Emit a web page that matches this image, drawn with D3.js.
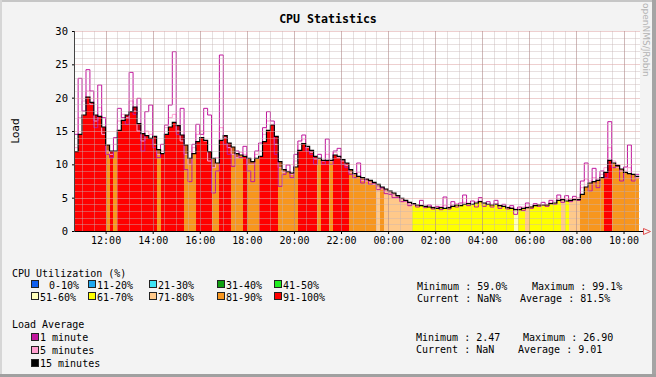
<!DOCTYPE html>
<html>
<head>
<meta charset="utf-8">
<script src="https://cdn.jsdelivr.net/npm/d3@7"></script>
<style>
  body { margin: 0; background: #f3f3f3; }
  svg { display: block; }
</style>
</head>
<body>
<div id="chart"></div>
<script>
// CPU Statistics - grafik gaya RRD / JRobin

// --- data (langkah 10 menit) ---
const startTime = new Date(2024, 0, 1, 10, 40);
const stepMinutes = 10;

const load15 = [
  11.9, 14.5, 17.4, 20.1, 19.3, 17.4, 17.2, 15.6, 12.9, 12.0, 12.0, 15.1,
  16.6, 17.4, 17.9, 18.6, 16.1, 14.6, 14.3, 13.9, 14.2, 12.2, 11.6, 14.5,
  15.6, 16.3, 15.8, 14.4, 12.9, 10.9, 11.6, 13.4, 14.0, 13.6, 11.9, 10.9,
  10.2, 13.6, 14.3, 13.2, 12.6, 11.6, 11.4, 11.2, 10.9, 10.4, 10.9, 11.2,
  13.4, 15.1, 15.9, 14.2, 10.4, 9.2, 8.9, 8.7, 9.6, 12.1, 13.1, 12.7,
  12.1, 11.2, 10.9, 10.6, 10.6, 10.6, 11.4, 11.2, 10.7, 10.2, 9.2, 8.6,
  8.2, 8.0, 7.8, 7.6, 7.3, 7.0, 6.6, 6.3, 6.0, 5.7, 5.3, 4.9,
  4.6, 4.3, 4.1, 3.9, 3.8, 3.7, 3.6, 3.5, 3.4, 3.5, 3.4, 3.5,
  3.7, 3.9, 3.8, 4.0, 4.1, 4.0, 4.2, 4.4, 4.2, 4.0, 3.9, 4.0,
  3.8, 3.7, 3.5, 3.4, 3.2, 3.2, 3.4, 3.5, 3.6, 3.8, 3.9, 3.9,
  3.9, 4.1, 4.2, 4.6, 4.7, 4.5, 4.6, 4.7, 4.7, 5.5, 6.6, 7.2,
  7.4, 7.6, 8.0, 8.8, 10.6, 10.2, 9.8, 9.3, 8.8, 8.6, 8.5, 8.2
];

const load5 = [
  12.5, 17.0, 19.5, 21.0, 19.0, 16.5, 18.5, 14.5, 12.0, 11.5, 13.0, 16.5,
  17.5, 17.0, 19.5, 18.0, 15.0, 13.5, 15.0, 14.5, 13.0, 11.5, 12.0, 15.5,
  17.0, 17.5, 15.0, 13.5, 11.5, 10.0, 12.5, 14.5, 15.0, 13.5, 10.5, 9.5,
  11.0, 15.5, 14.0, 12.5, 11.5, 11.0, 11.8, 11.5, 10.0, 10.0, 11.5, 12.0,
  14.5, 16.5, 16.0, 13.0, 9.5, 8.8, 9.0, 8.5, 10.5, 13.0, 13.8, 12.5,
  11.8, 10.8, 10.8, 10.5, 11.5, 10.5, 11.8, 11.0, 10.5, 9.8, 8.8, 8.5,
  8.8, 7.6, 7.5, 7.3, 7.0, 6.6, 6.3, 6.0, 5.7, 5.4, 5.0, 4.7,
  4.4, 4.1, 3.9, 3.8, 3.9, 3.7, 3.7, 3.6, 3.5, 3.7, 3.8, 3.6,
  3.9, 4.1, 3.9, 4.3, 4.2, 4.0, 4.4, 4.5, 4.1, 4.0, 4.0, 4.1,
  3.8, 3.7, 3.6, 3.5, 3.3, 3.4, 3.6, 3.7, 3.7, 3.9, 4.0, 3.9,
  4.0, 4.3, 4.5, 4.9, 4.8, 4.7, 4.8, 4.9, 5.0, 6.5, 7.8, 7.5,
  8.0, 7.8, 8.5, 9.5, 12.5, 10.5, 9.5, 9.0, 9.0, 9.5, 8.5, 8.0
];

const load1 = [
  14.5, 22.9, 18.0, 24.2, 21.0, 15.5, 21.9, 17.0, 11.5, 11.0, 14.0, 18.4,
  17.0, 16.0, 23.8, 17.5, 19.9, 12.0, 17.9, 18.9, 12.5, 11.0, 13.0, 15.9,
  18.9, 26.9, 14.5, 18.4, 9.2, 7.4, 13.0, 16.0, 14.5, 18.4, 17.4, 5.7,
  9.0, 26.4, 13.0, 11.5, 9.7, 12.0, 11.0, 12.7, 9.0, 7.4, 12.0, 13.2,
  15.5, 17.9, 16.5, 11.5, 6.7, 8.5, 9.9, 8.0, 11.5, 13.5, 14.4, 12.0,
  11.5, 10.0, 11.5, 10.0, 13.8, 10.0, 12.0, 12.4, 10.0, 9.5, 8.5, 8.0,
  10.2, 7.2, 7.8, 7.0, 7.2, 6.2, 6.5, 5.6, 5.5, 5.0, 5.0, 4.4,
  4.5, 3.8, 4.0, 3.6, 4.6, 3.5, 3.9, 3.3, 3.7, 3.2, 5.1, 3.3,
  4.4, 3.6, 4.2, 5.4, 3.8, 4.5, 3.6, 5.0, 3.7, 4.4, 3.6, 4.6,
  3.4, 4.0, 3.3, 3.8, 2.5, 3.6, 3.1, 4.2, 3.4, 4.1, 3.7, 4.3,
  3.7, 4.6, 4.0, 5.4, 4.3, 5.3, 4.4, 5.2, 4.6, 7.5, 10.2, 6.0,
  9.4, 6.5, 9.0, 8.0, 16.4, 9.5, 9.9, 7.5, 9.6, 12.9, 7.5, 8.5
];

// indeks ke cpuLegend (9 = 91-100%, 8 = 81-90%, ...)
const cpuBucket = [
  9, 9, 9, 9, 9, 9, 9, 9, 8, 9, 8, 9,
  9, 9, 9, 9, 9, 9, 9, 9, 9, 8, 9, 9,
  9, 9, 9, 9, 8, 8, 8, 9, 9, 9, 9, 8,
  8, 9, 9, 9, 8, 8, 8, 9, 8, 8, 8, 9,
  9, 9, 9, 9, 8, 8, 8, 8, 8, 9, 9, 9,
  9, 9, 8, 9, 9, 8, 9, 9, 9, 9, 8, 8,
  8, 8, 8, 8, 8, 7, 8, 7, 7, 7, 7, 7,
  7, 7, 6, 6, 6, 6, 6, 6, 6, 6, 6, 6,
  6, 6, 6, 6, 6, 6, 6, 6, 6, 6, 6, 6,
  6, 6, 6, 6, 5, 6, 6, 7, 6, 6, 6, 6,
  6, 6, 6, 6, 7, 6, 7, 7, 7, 8, 8, 8,
  8, 8, 8, 9, 9, 8, 8, 8, 8, 8, 8, 8
];

const cpuLegend = ["0-10%", "11-20%", "21-30%", "31-40%", "41-50%",
                   "51-60%", "61-70%", "71-80%", "81-90%", "91-100%"];
const cpuColors = ["#1060f0", "#20a8f0", "#40e4f4", "#10a010", "#20ee20",
                   "#ffffbb", "#ffff00", "#ffc98a", "#f7961e", "#ff0000"];
const loadLegend = ["1 minute", "5 minutes", "15 minutes"];
const loadColors = ["#c0169c", "#ffa0d0", "#000000"];
const cpuStats = ["Minimum : 59.0%", "Maximum : 99.1%", "Current : NaN%", "Average : 81.5%"];
const loadStats = ["Minimum : 2.47", "Maximum : 26.90", "Current : NaN", "Average : 9.01"];
const yTicks = [0, 5, 10, 15, 20, 25, 30];
const xTickLabels = ["12:00", "14:00", "16:00", "18:00", "20:00", "22:00",
                     "00:00", "02:00", "04:00", "06:00", "08:00", "10:00"];

// --- ukuran ---
const W = 656, H = 377;
const plot = { left: 75, right: 640, top: 31, bottom: 231 };
const mono = "'DejaVu Sans Mono', monospace";

const svg = d3.select("#chart").append("svg")
    .attr("width", W)
    .attr("height", H);

// latar dan bingkai
svg.append("rect").attr("width", W).attr("height", H).attr("fill", "#f3f3f3");
svg.append("rect").attr("x", 0).attr("y", 0).attr("width", W).attr("height", 2).attr("fill", "#c6c6c6");
svg.append("rect").attr("x", 0).attr("y", 0).attr("width", 2).attr("height", H).attr("fill", "#d6d6d6");
svg.append("rect").attr("x", W - 4).attr("y", 0).attr("width", 4).attr("height", H).attr("fill", "#a4a4a4");
svg.append("rect").attr("x", 0).attr("y", H - 3).attr("width", W).attr("height", 3).attr("fill", "#a0a0a0");

// Scales
const domainStart = new Date(2024, 0, 1, 10, 42);
const domainEnd = d3.timeHour.offset(domainStart, 24);
const x = d3.scaleTime().domain([domainStart, domainEnd]).range([plot.left, plot.right]);
const y = d3.scaleLinear().domain([0, 30]).range([plot.bottom, plot.top]);

const edges = d3.range(load15.length + 1).map(i => d3.timeMinute.offset(startTime, i * stepMinutes));

svg.append("rect")
    .attr("x", plot.left).attr("y", plot.top)
    .attr("width", plot.right - plot.left).attr("height", plot.bottom - plot.top)
    .attr("fill", "#ffffff");

svg.append("clipPath").attr("id", "clip")
    .append("rect")
    .attr("x", plot.left).attr("y", plot.top - 2)
    .attr("width", plot.right - plot.left).attr("height", plot.bottom - plot.top + 2);

const g = svg.append("g").attr("clip-path", "url(#clip)");

// area berwarna menurut utilisasi CPU, tinggi = load 15 menit
g.selectAll("rect.cpu")
    .data(load15)
    .join("rect")
    .attr("class", "cpu")
    .attr("x", (d, i) => x(edges[i]))
    .attr("width", (d, i) => x(edges[i + 1]) - x(edges[i]))
    .attr("y", d => y(d))
    .attr("height", d => y(0) - y(d))
    .attr("fill", (d, i) => cpuColors[cpuBucket[i]])
    .attr("shape-rendering", "crispEdges");

// bayangan gelap antara load 5 menit dan 15 menit
g.selectAll("rect.shade")
    .data(load15)
    .join("rect")
    .attr("class", "shade")
    .attr("x", (d, i) => x(edges[i]))
    .attr("width", (d, i) => x(edges[i + 1]) - x(edges[i]))
    .attr("y", d => y(d))
    .attr("height", (d, i) => Math.max(0, y(Math.min(load5[i], d)) - y(d)))
    .attr("fill", "rgb(110,0,40)")
    .attr("fill-opacity", 0.35)
    .attr("shape-rendering", "crispEdges");

// Grid
const grid = svg.append("g").attr("shape-rendering", "crispEdges");
grid.selectAll("line.hmin")
    .data(d3.range(1, 31))
    .join("line")
    .attr("x1", plot.left).attr("x2", plot.right)
    .attr("y1", d => Math.round(y(d)) + 0.5).attr("y2", d => Math.round(y(d)) + 0.5)
    .attr("stroke", d => d % 5 === 0 ? "#e0a8a8" : "#c8b4b4")
    .attr("stroke-opacity", d => d % 5 === 0 ? 0.55 : 0.42);

const minorTimes = d3.timeMinute.every(30).range(domainStart, domainEnd);
const isMajor = d => d.getMinutes() === 0 && d.getHours() % 2 === 0;
grid.selectAll("line.vmin")
    .data(minorTimes)
    .join("line")
    .attr("x1", d => Math.round(x(d)) + 0.5).attr("x2", d => Math.round(x(d)) + 0.5)
    .attr("y1", plot.top).attr("y2", plot.bottom)
    .attr("stroke", d => isMajor(d) ? "#b08a8a" : "#c4b4b4")
    .attr("stroke-opacity", d => isMajor(d) ? 0.6 : 0.42);

// garis load (step)
const stepLine = vals => d3.line()
    .curve(d3.curveStepAfter)
    .x(d => x(d[0]))
    .y(d => y(d[1]))(edges.map((t, i) => [t, vals[Math.min(i, vals.length - 1)]]));

g.append("path").attr("d", stepLine(load5))
    .attr("fill", "none").attr("stroke", loadColors[1]).attr("stroke-width", 1);
g.append("path").attr("d", stepLine(load1))
    .attr("fill", "none").attr("stroke", loadColors[0]).attr("stroke-width", 1);
g.append("path").attr("d", stepLine(load15))
    .attr("fill", "none").attr("stroke", loadColors[2]).attr("stroke-width", 1.2);

// Axes
const hourTicks = d3.timeHour.every(2).range(domainStart, domainEnd);
const xAxis = svg.append("g")
    .attr("transform", `translate(0,${plot.bottom})`)
    .call(d3.axisBottom(x).tickValues(hourTicks).tickFormat((d, i) => xTickLabels[i]).tickSize(3).tickPadding(3));
xAxis.select(".domain").remove();
xAxis.selectAll("text").style("font-family", mono).style("font-size", "10px").attr("fill", "#000");

const yAxis = svg.append("g")
    .attr("transform", `translate(${plot.left},0)`)
    .call(d3.axisLeft(y).tickValues(yTicks).tickSize(3).tickPadding(4));
yAxis.select(".domain").remove();
yAxis.selectAll("text").style("font-family", mono).style("font-size", "10.5px").attr("fill", "#000");

svg.append("line")
    .attr("x1", plot.left - 0.5).attr("x2", plot.left - 0.5)
    .attr("y1", plot.top).attr("y2", plot.bottom + 1)
    .attr("stroke", "#444");
svg.append("line")
    .attr("x1", plot.left).attr("x2", 644)
    .attr("y1", plot.bottom + 0.5).attr("y2", plot.bottom + 0.5)
    .attr("stroke", "#000");
svg.append("path")
    .attr("d", `M643.5,228.5 L650.5,231.5 L643.5,234.5 Z`)
    .attr("fill", "none")
    .attr("stroke", "#e05050");

// Judul
svg.append("text")
    .attr("x", 328).attr("y", 23)
    .attr("text-anchor", "middle")
    .style("font-family", mono).style("font-size", "11.6px").style("font-weight", "bold")
    .text("CPU Statistics");

svg.append("text")
    .attr("transform", "translate(19,131) rotate(-90)")
    .attr("text-anchor", "middle")
    .style("font-family", "'DejaVu Sans', sans-serif").style("font-size", "10.5px")
    .text("Load");

svg.append("text")
    .attr("transform", "translate(643,3) rotate(90)")
    .style("font-family", "'DejaVu Sans', sans-serif").style("font-size", "9px")
    .attr("fill", "#b4b4b4")
    .text("openNMS/JRobin");

// Legenda CPU
const legend = svg.append("g").style("font-family", mono).style("font-size", "10px");
legend.append("text").attr("x", 12).attr("y", 277).text("CPU Utilization (%)");

const boxX = [31, 88, 149, 217, 274];
cpuLegend.forEach((label, i) => {
    const col = i % 5, row = Math.floor(i / 5);
    const bx = boxX[col], by = 280 + row * 12;
    legend.append("rect")
        .attr("x", bx + 0.5).attr("y", by + 0.5)
        .attr("width", 7).attr("height", 7)
        .attr("fill", cpuColors[i]).attr("stroke", "#222")
        .attr("shape-rendering", "crispEdges");
    legend.append("text")
        .attr("x", i === 0 ? bx + 18 : bx + 9)
        .attr("y", by + 9)
        .text(label);
});

legend.append("text").attr("x", 417).attr("y", 290).text(cpuStats[0]);
legend.append("text").attr("x", 532).attr("y", 290).text(cpuStats[1]);
legend.append("text").attr("x", 417).attr("y", 302).text(cpuStats[2]);
legend.append("text").attr("x", 520).attr("y", 302).text(cpuStats[3]);

// Legenda load
legend.append("text").attr("x", 12).attr("y", 328).text("Load Average");
loadLegend.forEach((label, i) => {
    const by = 333 + i * 13;
    legend.append("rect")
        .attr("x", 31.5).attr("y", by + 0.5)
        .attr("width", 7).attr("height", 7)
        .attr("fill", loadColors[i]).attr("stroke", "#222")
        .attr("shape-rendering", "crispEdges");
    legend.append("text").attr("x", 40).attr("y", by + 8).text(label);
});

legend.append("text").attr("x", 416).attr("y", 341).text(loadStats[0]);
legend.append("text").attr("x", 523).attr("y", 341).text(loadStats[1]);
legend.append("text").attr("x", 416).attr("y", 353).text(loadStats[2]);
legend.append("text").attr("x", 518).attr("y", 353).text(loadStats[3]);
</script>
</body>
</html>
